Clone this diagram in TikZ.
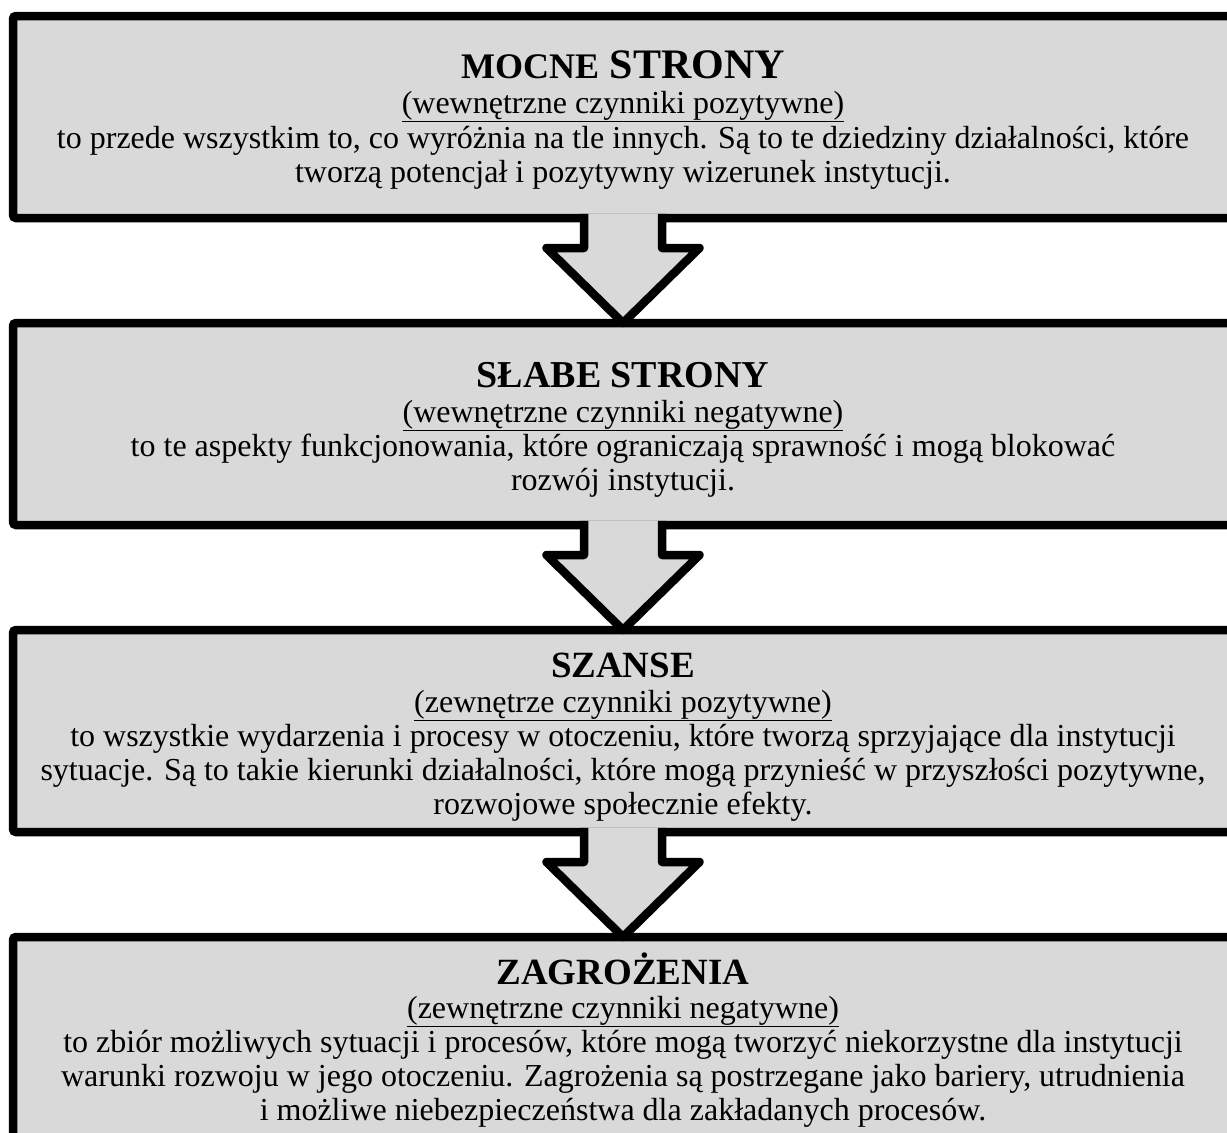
\documentclass[tikz,border=0pt]{standalone}
\usepackage{fontspec}
\setmainfont{Liberation Serif}
\usetikzlibrary{positioning}
\definecolor{boxgray}{HTML}{D9D9D9}

\begin{document}
\begin{tikzpicture}[
  x=1pt, y=1pt,
  font=\fontsize{32}{34}\selectfont,
  node distance=105pt,
  swotbox/.style={
    draw=black, fill=boxgray, line width=8.5pt, rounded corners=3pt,
    minimum width=1220pt, minimum height=202pt, inner sep=0pt, outer sep=0pt
  },
  heading/.style={font=\fontsize{#1}{#1}\selectfont\bfseries, anchor=base, inner sep=0pt},
  subhead/.style={anchor=base, inner sep=0pt},
  bodytext/.style={align=center, anchor=base, inner sep=0pt},
  blockarrow/.style={draw=black, fill=boxgray, line width=8.5pt, line join=round}
]

\useasboundingbox (0,0) rectangle (1227,-1133);
\clip (0,0) rectangle (1227,-1133);

% ── Boxes ────────────────────────────────────────────────────────────────────
\node[swotbox] (mocne) at (623,-117) {};
\node[swotbox, below=of mocne] (slabe) {};
\node[swotbox, below=of slabe] (szanse) {};
\node[swotbox, below=of szanse] (zagroz) {};

% ── Block arrows between boxes ───────────────────────────────────────────────
\filldraw[blockarrow] ([xshift=-39pt, yshift=4.25pt]mocne.south) -- ++(0,-34.25)
  -- ++(-37.5,0) -- (slabe.north) -- ++(76.5,75) -- ++(-37.5,0) -- ++(0,34.25);
\filldraw[blockarrow] ([xshift=-39pt, yshift=4.25pt]slabe.south) -- ++(0,-34.25)
  -- ++(-37.5,0) -- (szanse.north) -- ++(76.5,75) -- ++(-37.5,0) -- ++(0,34.25);
\filldraw[blockarrow] ([xshift=-39pt, yshift=4.25pt]szanse.south) -- ++(0,-34.25)
  -- ++(-37.5,0) -- (zagroz.north) -- ++(76.5,75) -- ++(-37.5,0) -- ++(0,34.25);

% ── 1. MOCNE STRONY (body base = last line) ──────────────────────────────────
\node[heading=42] (mocnetit) at ([yshift=-62pt]mocne.north)
  {{\fontsize{36}{36}\selectfont MOCNE} STRONY};
\node[subhead] (mocnesub) at ([yshift=-97pt]mocne.north)
  {\underline{(wewnętrzne czynniki pozytywne)}};
\node[bodytext] (mocnetxt) at ([yshift=-166pt]mocne.north) {%
  to przede wszystkim to, co wyróżnia na tle innych. Są to te dziedziny działalności, które\\
  tworzą potencjał i pozytywny wizerunek instytucji.};

% ── 2. SŁABE STRONY ──────────────────────────────────────────────────────────
\node[heading=38] (slabetit) at ([yshift=-64pt]slabe.north) {SŁABE STRONY};
\node[subhead] (slabesub) at ([yshift=-99pt]slabe.north)
  {\underline{(wewnętrzne czynniki negatywne)}};
\node[bodytext] (slabetxt) at ([yshift=-167pt]slabe.north) {%
  to te aspekty funkcjonowania, które ograniczają sprawność i mogą blokować\\
  rozwój instytucji.};

% ── 3. SZANSE ────────────────────────────────────────────────────────────────
\node[heading=37] (szansetit) at ([yshift=-47pt]szanse.north) {SZANSE};
\node[subhead] (szansesub) at ([yshift=-82pt]szanse.north)
  {\underline{(zewnętrze czynniki pozytywne)}};
\node[bodytext] (szansetxt) at ([yshift=-184pt]szanse.north) {%
  to wszystkie wydarzenia i procesy w otoczeniu, które tworzą sprzyjające dla instytucji\\
  sytuacje. Są to takie kierunki działalności, które mogą przynieść w przyszłości pozytywne,\\
  rozwojowe społecznie efekty.};

% ── 4. ZAGROŻENIA ────────────────────────────────────────────────────────────
\node[heading=37] (zagroztit) at ([yshift=-47pt]zagroz.north) {ZAGROŻENIA};
\node[subhead] (zagrozsub) at ([yshift=-81pt]zagroz.north)
  {\underline{(zewnętrzne czynniki negatywne)}};
\node[bodytext] (zagroztxt) at ([yshift=-183pt]zagroz.north) {%
  to zbiór możliwych sytuacji i procesów, które mogą tworzyć niekorzystne dla instytucji\\
  warunki rozwoju w jego otoczeniu. Zagrożenia są postrzegane jako bariery, utrudnienia\\
  i możliwe niebezpieczeństwa dla zakładanych procesów.};

\end{tikzpicture}
\end{document}
